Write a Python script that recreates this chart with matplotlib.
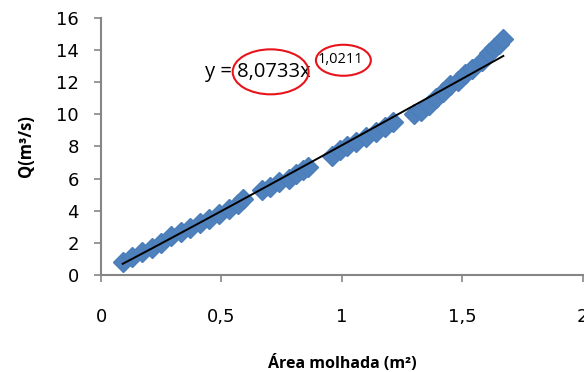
import numpy as np
import matplotlib
matplotlib.use("Agg")
import matplotlib.pyplot as plt
from matplotlib.patches import Ellipse

# measured values (Área molhada in m², Q in m³/s)
area = [0.09, 0.13, 0.17, 0.21, 0.25, 0.29, 0.33, 0.37, 0.41, 0.45, 0.49, 0.53, 0.57, 0.59,
        0.67, 0.70, 0.74, 0.78, 0.81, 0.84, 0.86,
        0.96, 0.99, 1.02, 1.06, 1.10, 1.14, 1.18, 1.21,
        1.30, 1.33, 1.36, 1.39, 1.42, 1.45, 1.48, 1.51, 1.54, 1.58, 1.61, 1.63, 1.65, 1.67]
vazao = [0.8, 1.1, 1.4, 1.7, 2.0, 2.4, 2.7, 2.9, 3.2, 3.5, 3.8, 4.1, 4.4, 4.7,
         5.3, 5.5, 5.8, 6.0, 6.3, 6.5, 6.7,
         7.4, 7.8, 8.0, 8.3, 8.6, 8.9, 9.2, 9.5,
         10.0, 10.2, 10.6, 11.0, 11.4, 11.8, 12.1, 12.5, 12.8, 13.3, 13.8, 14.1, 14.4, 14.7]

# power trendline y = a * x^b
coef_a = 8.0733
coef_b = 1.0211

x_ticks = [0, 0.5, 1, 1.5, 2]
x_tick_labels = ["0", "0,5", "1", "1,5", "2"]
y_ticks = [0, 2, 4, 6, 8, 10, 12, 14, 16]

plt.rcParams['font.family'] = ['Open Sans', 'DejaVu Sans']
axis_gray = "#868686"

fig = plt.figure(figsize=(5.84, 3.72), dpi=100)
ax = fig.add_axes([0.173, 0.261, 0.825, 0.691])

ax.plot(area, vazao, linestyle="none", marker="D", markersize=10.5,
        color="#4F81BD", markeredgecolor="#4A7EBB", zorder=2)

xs = np.linspace(min(area), max(area), 100)
ax.plot(xs, coef_a * xs ** coef_b, color="black", linewidth=1.4, zorder=3)

ax.set_xlim(0, 2)
ax.set_ylim(0, 16)
ax.set_xticks(x_ticks)
ax.set_xticklabels(x_tick_labels)
ax.set_yticks(y_ticks)

for side in ["top", "right"]:
    ax.spines[side].set_visible(False)
for side in ["left", "bottom"]:
    ax.spines[side].set_color(axis_gray)
    ax.spines[side].set_linewidth(1.5)
ax.tick_params(axis="both", colors=axis_gray, length=5, width=1.2,
               labelcolor="black")
for lbl in ax.get_xticklabels() + ax.get_yticklabels():
    lbl.set_family(["DejaVu Sans"])
    lbl.set_fontsize(13)
ax.tick_params(axis="x", pad=19)
ax.tick_params(axis="y", pad=11)

ax.set_xlabel("Área molhada (m²)", fontsize=11.5, fontweight="bold", labelpad=21)
ax.set_ylabel("Q(m³/s)", fontsize=12, fontweight="bold", labelpad=15)

# trendline equation
ax.text(0.43, 12.65, "y = 8,0733x", fontsize=14.5, va="center", ha="left")
ax.text(0.9, 13.4, "1,0211", fontsize=10.5, va="center", ha="left")

# red highlight ellipses
ax.add_patch(Ellipse((0.704, 12.64), 0.315, 2.8, fill=False, edgecolor="#E8141B",
                     linewidth=1.5, clip_on=False, zorder=4))
ax.add_patch(Ellipse((1.006, 13.36), 0.228, 1.93, fill=False, edgecolor="#E8141B",
                     linewidth=1.5, clip_on=False, zorder=4))

fig.savefig("out.png", dpi=100)
